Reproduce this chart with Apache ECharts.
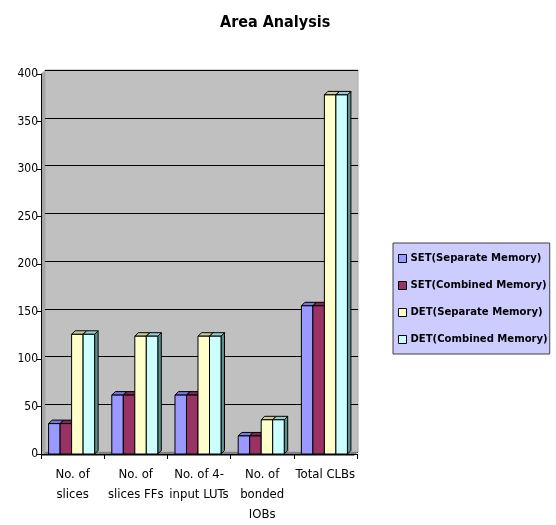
<!DOCTYPE html>
<html>
<head>
<meta charset="utf-8">
<style>
  html, body { margin: 0; padding: 0; background: #ffffff; }
  #chart { width: 556px; height: 525px; }
</style>
<script src="https://cdn.jsdelivr.net/npm/echarts@6/dist/echarts.min.js"></script>
</head>
<body>
<div id="chart"></div>
<script>
// Resource usage per design variant
const categories = ['No. of\nslices', 'No. of\nslices FFs', 'No. of 4-\ninput LUTs', 'No. of\nbonded\nIOBs', 'Total CLBs'];
const seriesNames = ['SET(Separate Memory)', 'SET(Combined Memory)', 'DET(Separate Memory)', 'DET(Combined Memory)'];
const setSeparate = [32, 62, 62, 19, 156];
const setCombined = [32, 62, 62, 19, 156];
const detSeparate = [126, 124, 124, 36, 378];
const detCombined = [126, 124, 124, 36, 378];
const yTicks = { min: 0, max: 400, interval: 50 };

const seriesValues = [setSeparate, setCombined, detSeparate, detCombined];
const frontColors = ['#9999FF', '#993366', '#FFFFCC', '#CCFFFF'];
const topColors   = ['#7777DD', '#7A2950', '#CCCC99', '#99CCCC'];
const sideColors  = ['#5F5FAA', '#5C1F3D', '#9C9C78', '#5E8F8F'];

const FONT = '"DejaVu Sans Condensed", "Liberation Sans Narrow", "Arial Narrow", sans-serif';
const DEPTH = 3.5;

function make3DBar(s) {
  return function (params, api) {
    const cat = api.value(0);
    const val = api.value(1);
    const base = api.coord([cat, 0]);
    const top = api.coord([cat, val]);
    const band = api.size([1, 0])[0];
    const w = band * 0.182;
    const x0 = base[0] - 2 * w - 1 + s * w;
    const yb = base[1];
    const yt = top[1];
    const d = DEPTH;
    const line = { stroke: '#000000', lineWidth: 1 };
    return {
      type: 'group',
      children: [
        { type: 'polygon', shape: { points: [[x0 + w, yt], [x0 + w + d, yt - d], [x0 + w + d, yb - d], [x0 + w, yb]] },
          style: Object.assign({ fill: sideColors[s] }, line) },
        { type: 'polygon', shape: { points: [[x0, yt], [x0 + d, yt - d], [x0 + w + d, yt - d], [x0 + w, yt]] },
          style: Object.assign({ fill: topColors[s] }, line) },
        { type: 'rect', shape: { x: x0, y: yt, width: w, height: yb - yt },
          style: Object.assign({ fill: frontColors[s] }, line) }
      ]
    };
  };
}

const chart = echarts.init(document.getElementById('chart'), null, { renderer: 'canvas' });

const series = seriesNames.map((name, s) => ({
  name: name,
  type: 'custom',
  xAxisIndex: 0,
  yAxisIndex: 0,
  z: 10 + s,
  itemStyle: { color: frontColors[s], borderColor: '#000000', borderWidth: 1 },
  renderItem: make3DBar(s),
  encode: { x: 0, y: 1 },
  data: seriesValues[s].map((v, i) => [i, v])
}));

chart.setOption({
  animation: false,
  backgroundColor: '#ffffff',
  title: {
    text: 'Area Analysis',
    left: 215,
    top: 10,
    textStyle: { fontFamily: FONT, fontWeight: 'bold', fontSize: 16, color: '#000000' }
  },
  legend: {
    data: seriesNames,
    orient: 'vertical',
    left: 393,
    top: 243,
    padding: [10, 2, 9, 5],
    itemGap: 16,
    itemWidth: 8,
    itemHeight: 8,
    backgroundColor: '#CCCCFF',
    borderColor: '#404040',
    borderWidth: 1,
    icon: 'rect',
    itemStyle: { borderColor: '#000000', borderWidth: 1 },
    textStyle: { fontFamily: FONT, fontWeight: 'bold', fontSize: 11.2, color: '#000000', padding: [0, 0, 0, -1] }
  },
  grid: [
    { left: 41, top: 74, width: 316, height: 382, show: false, containLabel: false },
    { left: 45, top: 70, width: 313, height: 382, show: true, backgroundColor: '#C0C0C0', borderColor: '#A8A8A8', borderWidth: 1, z: 0 }
  ],
  graphic: [
    { type: 'polygon', z: 1, shape: { points: [[41, 74], [45, 70], [45, 452], [41, 456]] }, style: { fill: '#A6A6A6' } },
    { type: 'polygon', z: 1, shape: { points: [[41, 456], [45, 452], [358, 452], [354, 456]] }, style: { fill: '#808080' } }
  ],
  xAxis: [
    {
      type: 'category', gridIndex: 0, data: categories,
      axisLine: { show: true, lineStyle: { color: '#000000', width: 1 } },
      axisTick: { show: true, length: 5, lineStyle: { color: '#000000' } },
      axisLabel: { fontFamily: FONT, fontSize: 13, color: '#000000', lineHeight: 20, margin: 11, interval: 0 },
      splitLine: { show: false },
      z: 5
    },
    {
      type: 'category', gridIndex: 1, data: categories,
      axisLine: { show: false }, axisTick: { show: false }, axisLabel: { show: false }, splitLine: { show: false }
    }
  ],
  yAxis: [
    {
      type: 'value', gridIndex: 0, min: yTicks.min, max: yTicks.max, interval: yTicks.interval,
      axisLine: { show: true, lineStyle: { color: '#000000', width: 1 } },
      axisTick: { show: true, length: 4, lineStyle: { color: '#000000' } },
      axisLabel: { fontFamily: FONT, fontSize: 12, color: '#000000', margin: 3 },
      splitLine: { show: false },
      z: 5
    },
    {
      type: 'value', gridIndex: 1, min: yTicks.min, max: yTicks.max, interval: yTicks.interval,
      axisLine: { show: false }, axisTick: { show: false }, axisLabel: { show: false },
      splitLine: { show: true, lineStyle: { color: '#000000', width: 1 } }
    }
  ],
  series: series
});
</script>
</body>
</html>
